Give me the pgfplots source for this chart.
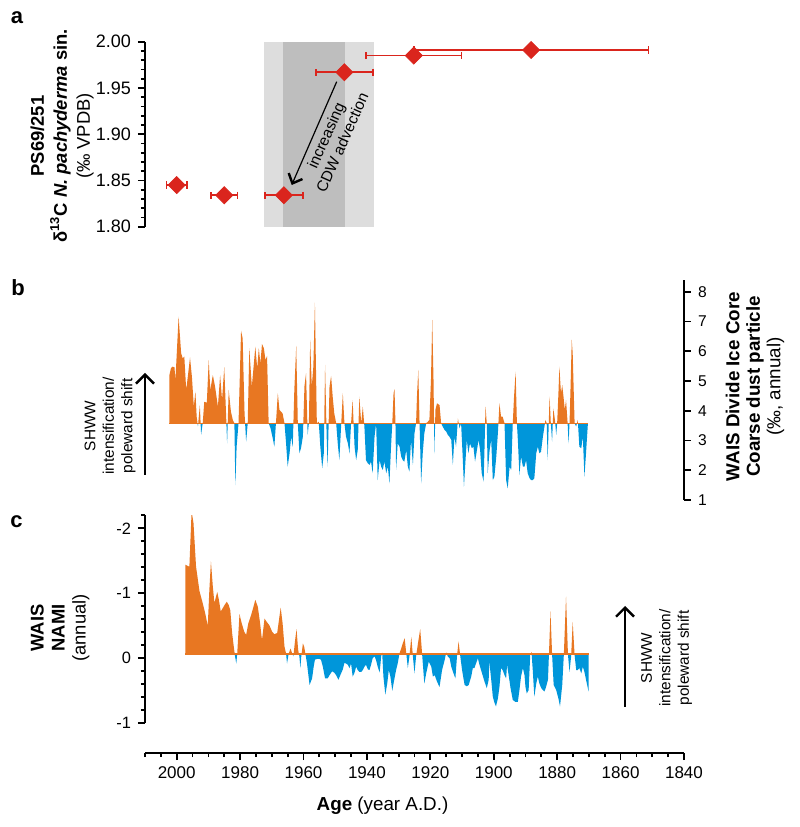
\documentclass[border=0pt]{standalone}
\usepackage{fontspec}
\setmainfont{Liberation Sans}
\usepackage{pgfplots}
\pgfplotsset{compat=1.18}
\usepackage{pgfplotstable}
\usetikzlibrary{arrows.meta}

\definecolor{orng}{RGB}{232,119,34}
\definecolor{blu}{RGB}{0,150,218}
\definecolor{redm}{RGB}{218,37,29}
\definecolor{lgray}{RGB}{221,221,221}
\definecolor{dgray}{RGB}{190,190,190}

\pgfplotstableread{
x y xe
2000.0 1.845 3.2
1985.0 1.834 4.2
1966.2 1.834 6.0
1947.1 1.967 9.0
1925.2 1.985 15.0
1888.2 1.991 37.0
}\adata

\pgfplotstableread{
year val
2002.3 3.58
2002.3 5.20
2001.8 5.43
2001.3 5.48
2000.7 5.46
2000.4 5.03
1999.4 7.16
1998.6 5.93
1998.1 5.76
1997.6 5.82
1997.0 4.70
1996.5 5.14
1995.8 5.79
1995.2 5.14
1994.6 4.14
1994.1 4.64
1993.7 3.80
1993.3 3.47
1992.7 4.19
1992.3 3.19
1991.8 3.58
1991.3 4.30
1990.5 4.27
1989.9 5.70
1989.4 4.70
1988.6 5.20
1987.9 4.81
1987.0 4.14
1986.3 5.20
1985.7 4.36
1985.0 5.46
1984.4 3.80
1984.1 2.90
1983.6 4.70
1982.9 3.97
1982.3 3.69
1981.8 3.58
1981.5 1.50
1981.1 2.79
1980.5 3.58
1979.7 6.69
1979.2 6.43
1978.6 3.91
1978.1 2.96
1977.6 3.58
1977.1 6.10
1976.3 4.81
1975.2 6.15
1974.6 5.43
1974.1 6.10
1973.6 5.59
1973.1 6.24
1972.5 6.10
1972.0 5.70
1971.5 5.84
1971.0 3.58
1970.4 3.41
1969.7 3.07
1969.2 2.79
1968.7 3.58
1968.1 4.59
1967.6 4.03
1967.1 3.97
1966.6 3.91
1966.0 3.58
1965.5 2.90
1965.0 2.12
1964.4 2.57
1963.9 3.13
1963.4 2.79
1962.9 4.70
1962.3 6.18
1961.8 3.58
1961.3 2.57
1960.8 2.74
1960.2 3.13
1959.7 4.83
1959.2 5.26
1958.7 3.19
1958.3 3.58
1957.9 6.38
1957.4 4.81
1956.9 5.48
1956.4 7.63
1955.8 3.58
1955.2 3.63
1954.7 2.79
1954.1 2.07
1953.6 2.57
1953.2 5.54
1952.7 3.13
1952.4 2.12
1951.8 4.81
1951.3 5.17
1950.8 4.47
1950.3 3.91
1949.7 3.58
1949.2 2.90
1948.7 2.34
1948.1 3.58
1947.6 4.59
1947.1 3.58
1946.6 3.13
1946.0 2.90
1945.5 2.57
1945.0 3.58
1944.5 4.36
1943.9 2.79
1943.4 2.34
1942.9 2.68
1942.4 4.47
1941.8 3.58
1941.3 4.14
1940.8 3.47
1940.3 2.34
1939.7 2.23
1939.2 2.18
1938.7 2.29
1938.2 1.90
1937.6 3.13
1937.1 3.58
1936.6 1.67
1936.0 2.34
1935.5 2.12
1935.0 2.01
1934.5 2.29
1933.9 1.90
1933.4 2.12
1932.9 1.56
1932.4 2.79
1932.0 3.58
1931.6 4.59
1931.3 4.72
1931.0 3.58
1930.8 2.01
1930.3 2.90
1929.7 2.79
1929.2 2.46
1928.7 2.34
1928.2 2.29
1927.6 2.68
1927.1 2.12
1926.6 1.95
1926.1 3.02
1925.5 2.18
1925.0 3.24
1924.5 3.58
1924.2 4.53
1923.8 5.37
1923.4 3.58
1922.9 1.56
1922.4 2.57
1921.9 3.24
1921.3 3.58
1920.8 3.63
1920.3 3.69
1919.8 5.03
1919.4 7.05
1919.0 5.03
1918.7 2.57
1918.4 4.03
1917.9 4.25
1917.1 4.19
1916.6 3.58
1916.1 3.47
1915.5 3.35
1915.0 3.30
1914.5 3.19
1914.0 3.13
1913.4 3.02
1912.9 2.18
1912.4 3.13
1911.9 2.79
1911.3 3.74
1910.8 3.41
1910.3 3.58
1909.8 2.46
1909.4 1.45
1908.9 2.34
1908.5 3.02
1908.0 2.57
1907.5 2.90
1906.9 2.74
1906.4 2.79
1905.9 2.29
1905.3 2.68
1904.8 3.02
1904.3 2.68
1903.8 1.90
1903.2 1.62
1902.9 2.79
1902.6 4.14
1902.2 3.58
1901.9 1.90
1901.3 2.68
1900.8 3.02
1900.3 1.67
1899.8 1.78
1899.2 2.46
1898.7 3.24
1898.2 4.25
1897.7 3.80
1897.2 3.80
1896.6 3.58
1896.1 1.67
1895.6 1.39
1895.0 2.12
1894.5 2.01
1894.0 3.58
1893.6 4.47
1893.1 5.31
1892.7 3.58
1892.4 3.02
1891.9 1.84
1891.4 2.46
1890.8 2.12
1890.3 2.12
1889.8 2.34
1889.3 1.90
1888.7 1.73
1888.2 1.67
1887.7 1.67
1887.2 1.73
1886.6 2.57
1886.1 2.79
1885.6 2.57
1885.1 2.62
1884.5 3.13
1884.0 3.47
1883.7 3.69
1883.3 3.58
1883.0 2.34
1882.4 4.47
1882.0 3.58
1881.6 2.96
1881.2 4.08
1880.7 3.69
1880.3 3.19
1880.0 3.58
1879.6 4.59
1879.3 5.48
1878.8 4.59
1878.4 4.86
1878.0 4.47
1877.6 4.03
1877.2 4.36
1876.7 3.58
1876.4 2.90
1876.1 3.58
1875.8 4.70
1875.4 6.38
1875.1 5.93
1874.5 3.58
1874.0 3.47
1873.5 3.69
1873.0 2.79
1872.4 2.74
1871.9 3.13
1871.4 1.78
1870.9 2.57
1870.3 3.58
}\bdata

\pgfplotstableread{
year val
1997.3 -0.066
1997.3 -1.44
1996.5 -1.42
1996.0 -1.41
1995.3 -2.26
1994.7 -2.08
1993.9 -1.41
1992.8 -1.03
1991.8 -0.85
1991.0 -0.69
1990.2 -0.50
1989.7 -1.05
1989.2 -1.49
1988.6 -1.10
1988.1 -0.85
1987.6 -0.95
1987.2 -1.02
1986.7 -0.90
1986.1 -0.72
1985.5 -0.77
1984.9 -0.82
1984.2 -0.87
1983.6 -0.82
1983.1 -0.74
1982.5 -0.38
1982.0 -0.18
1981.6 -0.03
1981.2 0.08
1980.9 -0.08
1980.2 -0.68
1979.5 -0.54
1978.7 -0.41
1978.1 -0.36
1977.4 -0.54
1976.5 -0.67
1975.8 -0.79
1975.2 -0.90
1974.4 -0.79
1973.7 -0.54
1973.1 -0.28
1972.3 -0.61
1971.6 -0.56
1970.8 -0.51
1969.9 -0.41
1969.2 -0.37
1968.3 -0.39
1967.6 -0.64
1967.2 -0.78
1966.6 -0.54
1966.0 -0.18
1965.5 -0.07
1965.2 0.08
1964.7 -0.07
1964.1 -0.15
1963.6 -0.08
1963.2 -0.03
1962.7 -0.26
1962.2 -0.45
1961.7 -0.13
1961.3 -0.03
1961.0 0.15
1960.7 -0.03
1960.2 -0.23
1959.8 -0.18
1959.4 -0.07
1958.9 0.08
1958.1 0.41
1957.3 0.31
1956.8 0.13
1956.4 0.02
1955.7 0.01
1955.0 0.01
1954.5 0.02
1953.9 0.13
1953.2 0.31
1952.4 0.31
1951.8 0.26
1951.0 0.20
1950.3 0.22
1949.7 0.26
1949.0 0.33
1948.4 0.26
1947.6 0.17
1947.1 0.07
1946.6 0.08
1946.0 0.10
1945.5 0.15
1945.0 0.08
1944.5 0.28
1943.9 0.22
1943.4 0.13
1942.9 0.18
1942.4 0.21
1941.8 0.21
1941.3 0.18
1940.8 0.13
1940.3 0.10
1939.7 0.17
1939.2 0.18
1938.7 0.10
1938.2 0.00
1937.6 -0.03
1937.1 0.03
1936.6 0.13
1936.0 0.22
1935.5 -0.03
1935.2 -0.09
1934.8 0.28
1934.2 0.56
1933.6 0.39
1933.1 0.18
1932.6 0.28
1932.0 0.50
1931.5 0.36
1930.8 0.18
1930.3 0.08
1929.7 -0.08
1929.2 -0.15
1928.7 -0.23
1928.1 -0.31
1927.6 -0.08
1927.1 0.15
1926.6 -0.03
1926.0 -0.33
1925.5 -0.03
1925.0 0.23
1924.5 -0.03
1923.9 -0.23
1923.2 -0.45
1922.6 -0.07
1921.9 0.39
1921.3 0.23
1920.5 0.05
1919.7 0.13
1919.2 0.28
1918.6 0.26
1917.9 0.36
1917.1 0.44
1916.3 0.18
1915.5 0.03
1915.0 -0.09
1914.5 -0.03
1913.9 0.00
1913.4 0.13
1912.7 0.23
1912.1 0.31
1911.6 -0.03
1911.1 -0.26
1910.6 -0.05
1910.0 0.18
1909.2 0.41
1908.5 0.43
1907.9 0.41
1907.1 0.28
1906.6 0.15
1906.1 0.15
1905.6 0.08
1905.0 0.00
1904.5 0.10
1903.7 0.23
1902.9 0.36
1902.2 0.46
1901.6 0.33
1901.4 0.05
1900.8 0.33
1900.3 0.59
1899.8 0.68
1899.3 0.74
1898.7 0.62
1898.2 0.44
1897.7 0.15
1897.2 0.18
1896.6 0.26
1896.1 0.31
1895.8 0.10
1895.3 0.26
1894.7 0.46
1894.0 0.64
1893.2 0.67
1892.4 0.67
1891.9 0.49
1891.4 0.28
1890.8 0.15
1890.3 0.26
1890.0 0.44
1889.6 0.54
1889.0 0.49
1888.5 -0.05
1888.1 -0.10
1887.7 0.18
1887.2 0.59
1886.6 0.39
1886.1 0.28
1885.6 0.39
1885.0 0.46
1884.5 0.49
1884.0 0.51
1883.5 0.44
1882.9 0.33
1882.6 -0.05
1882.1 -0.72
1881.6 -0.06
1881.1 0.41
1880.3 0.49
1879.6 0.62
1879.1 0.74
1878.4 0.41
1877.9 -0.05
1877.2 -0.95
1876.6 -0.06
1876.1 0.21
1875.6 -0.03
1875.1 -0.56
1874.5 -0.05
1874.0 0.18
1873.5 0.18
1873.0 0.15
1872.4 0.23
1871.9 0.13
1871.4 0.21
1870.9 0.33
1870.1 0.51
1870.1 -0.066
}\cdata

\pgfplotsset{
  cmn/.style={scale only axis, width=269.5pt, xmin=1840, xmax=2010, x dir=reverse, anchor=south west,
    /pgf/number format/assume math mode=true,
    /pgf/number format/set thousands separator={},
    tick label style={font=\fontsize{8.5}{10}\selectfont},
    axis line style={line width=0.9pt},
    tick style={black, line width=0.9pt},
    major tick length=3.5pt, minor tick length=2pt, tick align=outside},
  hid/.style={scale only axis, width=269.5pt, xmin=1840, xmax=2010, x dir=reverse, anchor=south west, hide axis},
}

\begin{document}
\begin{tikzpicture}
\useasboundingbox (0,0) rectangle (400pt,413.5pt);

% ---------------- panel a
\begin{axis}[cmn, at={(72.5pt,300.15pt)}, height=92.5pt, ymin=1.8, ymax=2.0,
  axis x line=none, axis y line*=left, ytick={1.80,1.85,1.90,1.95,2.00}, minor y tick num=4,
  tick label style={font=\fontsize{9}{10}\selectfont},
  yticklabel style={/pgf/number format/.cd, fixed, fixed zerofill, precision=2}, clip=false]
\addplot[fill=lgray, draw=none] coordinates {(1972.6,1.8) (1972.6,2.0) (1937.8,2.0) (1937.8,1.8)};
\addplot[fill=dgray, draw=none] coordinates {(1966.6,1.8) (1966.6,2.0) (1946.8,2.0) (1946.8,1.8)};
\addplot[only marks, mark=square*, mark size=3pt, mark options={rotate=45, fill=redm, draw=redm},
  error bars/.cd, x dir=both, x explicit,
  error bar style={redm, line width=0.9pt},
  error mark options={rotate=90, redm, mark size=1.8pt, line width=0.9pt}]
  table[x=x, y=y, x error=xe] {\adata};
\end{axis}

% ---------------- panel b
\begin{axis}[hid, at={(72.5pt,201.89pt)}, height=71.72pt, ymin=3.58, ymax=8.4]
\addplot[fill=orng, draw=none] table[x=year, y=val] {\bdata};
\end{axis}
\begin{axis}[hid, at={(72.5pt,163.5pt)}, height=38.39pt, ymin=1, ymax=3.58]
\addplot[fill=blu, draw=none] table[x=year, y=val] {\bdata};
\end{axis}
\begin{axis}[cmn, at={(72.5pt,163.5pt)}, height=110.11pt, ymin=1, ymax=8.4,
  tick label style={font=\fontsize{7.8}{9}\selectfont},
  axis x line=none, axis y line*=right, ytick={1,2,3,4,5,6,7,8}]
\addplot[orng, line width=0.6pt] coordinates {(2002.3,3.58) (1870.3,3.58)};
\end{axis}

% ---------------- panel c
\begin{axis}[hid, at={(72.5pt,86.5pt)}, height=69.36pt, ymin=-2.2, ymax=-0.066, y dir=reverse]
\addplot[fill=orng, draw=none] table[x=year, y=val] {\cdata};
\end{axis}
\begin{axis}[hid, at={(72.5pt,51.85pt)}, height=34.645pt, ymin=-0.066, ymax=1, y dir=reverse]
\addplot[fill=blu, draw=none] table[x=year, y=val] {\cdata};
\end{axis}
\begin{axis}[cmn, at={(72.5pt,51.85pt)}, height=104pt, ymin=-2.2, ymax=1, y dir=reverse,
  tick label style={font=\fontsize{8.2}{9}\selectfont},
  axis x line=none, axis y line*=left, ytick={-2,-1,0,1}, yticklabels={-2,-1,0,-1},
  minor ytick={-2.2,-1.8,-1.6,-1.4,-1.2,-0.8,-0.6,-0.4,-0.2,0.2,0.4,0.6,0.8}]
\addplot[orng, line width=0.6pt] coordinates {(1997.3,-0.066) (1870.1,-0.066)};
\end{axis}

% ---------------- bottom axis
\begin{axis}[cmn, at={(72.5pt,37pt)}, height=10pt, ymin=0, ymax=1,
  axis y line=none, axis x line*=bottom, xtick={1840,1860,...,2000},
  minor xtick={1845,1850,...,2010}]
\addplot[draw=none] coordinates {(2000,0.5)};
\end{axis}

% ---------------- texts
\node[font=\bfseries\fontsize{11}{13}\selectfont] at (8.5pt,404.5pt) {a};
\node[font=\bfseries\fontsize{11}{13}\selectfont] at (9pt,269.5pt) {b};
\node[font=\bfseries\fontsize{11}{13}\selectfont] at (8.3pt,152.65pt) {c};

\node[rotate=90, align=center, font=\fontsize{9.2}{11.5}\selectfont] at (31pt,345.5pt)
  {\textbf{PS69/251}\\\textbf{δ\textsuperscript{13}C \textit{N. pachyderma} sin.}\\(‰ VPDB)};
\node[rotate=90, align=center, font=\fontsize{9.4}{10.25}\selectfont] at (377.5pt,220.2pt)
  {\textbf{WAIS Divide Ice Core}\\\textbf{Coarse dust particle}\\(‰, annual)};
\node[rotate=90, align=center, font=\fontsize{9.2}{10.5}\selectfont] at (30pt,99.5pt)
  {\textbf{WAIS}\\\textbf{NAMI}\\(annual)};

\node[rotate=90, align=center, font=\fontsize{7.7}{9.25}\selectfont] at (55pt,200.5pt)
  {SHWW\\intensification/\\poleward shift};
\draw[line width=0.6pt, -{Straight Barb[length=4.5pt,width=9pt,line width=1.2pt]}] (72.5pt,176pt) -- (72.5pt,227pt);

\node[rotate=90, align=center, font=\fontsize{7.7}{9.25}\selectfont] at (333.3pt,84.5pt)
  {SHWW\\intensification/\\poleward shift};
\draw[line width=0.6pt, -{Straight Barb[length=4.5pt,width=9pt,line width=1.2pt]}] (312.5pt,60.15pt) -- (312.5pt,110.5pt);

\node[rotate=66, align=center, font=\fontsize{7.7}{8.9}\selectfont] at (167pt,344pt)
  {increasing\\CDW advection};
\draw[line width=0.6pt, -{Straight Barb[length=4pt,width=7.5pt,line width=1.2pt]}] (168.35pt,372.65pt) -- (145.85pt,321pt);

\node[anchor=base, font=\fontsize{9.4}{11}\selectfont] at (191.25pt,8.5pt) {\textbf{Age} (year A.D.)};
\end{tikzpicture}
\end{document}
